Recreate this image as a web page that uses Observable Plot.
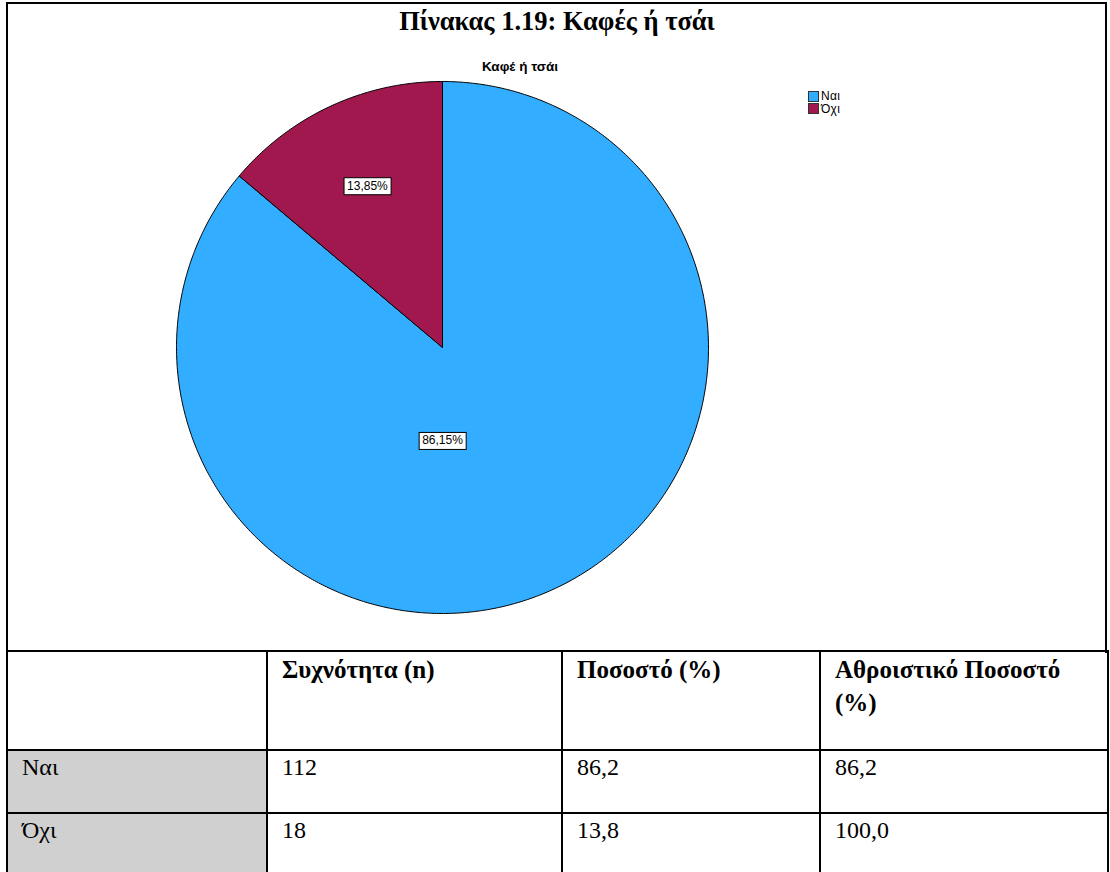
<!DOCTYPE html>
<html><head><meta charset="utf-8">
<script src="https://cdn.jsdelivr.net/npm/d3@7"></script>
<script src="https://cdn.jsdelivr.net/npm/@observablehq/plot@0.6"></script>
<style>
  body{margin:0;background:#fff;width:1110px;height:872px;overflow:hidden;position:relative;font-family:"Liberation Serif","Times New Roman",serif;}
  #frame{position:absolute;left:6px;top:2px;width:1097px;height:649px;border:2px solid #000;border-bottom:none;}
  #title{position:absolute;left:0;top:6px;width:1114px;text-align:center;font-weight:bold;font-size:26.5px;line-height:31px;}
  #subtitle{position:absolute;left:430px;top:59px;width:180px;text-align:center;font-family:"Liberation Sans",Arial,sans-serif;font-weight:bold;font-size:13.5px;}
  #pie{position:absolute;left:174px;top:79px;}
  #legend{position:absolute;left:808px;top:90px;font-family:"Liberation Sans",Arial,sans-serif;font-size:12px;letter-spacing:0.3px;}
  #legend .item{display:flex;align-items:center;height:12.5px;}
  #legend .sw{width:9px;height:9px;border:1px solid #333;margin-right:2px;}
  table{position:absolute;left:6px;top:650px;border-collapse:collapse;font-size:24px;table-layout:fixed;}
  td{border:2px solid #000;vertical-align:top;padding:0 14px 0 14px;line-height:33px;box-sizing:border-box;}
  tr.head{height:99px;}
  tr.head td{font-weight:bold;font-size:25px;padding-top:1px;}
  tr.row{height:63px;}
  tr.row td{padding-top:0;}
  td.rowhead{background:#d0d0d0;}
</style>
</head><body>
<div id="frame"></div>
<div id="title"></div>
<div id="subtitle"></div>
<div id="pie"></div>
<div id="legend"></div>
<table id="tbl"></table>
<script>
const tableTitle = "Πίνακας 1.19: Καφές ή τσάι";
const chartTitle = "Καφέ ή τσάι";
const categories = ["Ναι", "Όχι"];
const counts = [112, 18];
const percents = ["86,2", "13,8"];
const cumulative = ["86,2", "100,0"];
const headers = ["", "Συχνότητα (n)", "Ποσοστό (%)", "Αθροιστικό Ποσοστό (%)"];
const colors = ["#33adff", "#a0184e"];

document.getElementById("title").textContent = tableTitle;
document.getElementById("subtitle").textContent = chartTitle;

const total = d3.sum(counts);
const arcs = d3.pie().sort(null)(counts);

// slice outlines (center -> arc -> center), in unit-circle coordinates
const slicePts = [];
arcs.forEach((a, i) => {
  const cat = categories[i];
  slicePts.push({cat, x: 0, y: 0});
  const n = Math.max(2, Math.ceil((a.endAngle - a.startAngle) / (Math.PI / 360)));
  for (let k = 0; k <= n; k++) {
    const t = a.startAngle + (a.endAngle - a.startAngle) * k / n;
    slicePts.push({cat, x: Math.sin(t), y: Math.cos(t)});
  }
  slicePts.push({cat, x: 0, y: 0});
});

// labels: small slices at their mid-angle, a majority slice below the centre
const labels = arcs.map((a, i) => {
  const frac = counts[i] / total;
  const big = frac >= 0.5;
  const ang = big ? Math.PI : (a.startAngle + a.endAngle) / 2;
  const d = big ? 0.35 : 0.67;
  return {cat: categories[i], x: Math.sin(ang) * d, y: Math.cos(ang) * d,
          text: (frac * 100).toFixed(2).replace(".", ",") + "%"};
});

const size = 536;
const chart = Plot.plot({
  width: size, height: size,
  margin: 2,
  x: {domain: [-1, 1], axis: null},
  y: {domain: [-1, 1], axis: null},
  color: {domain: categories, range: colors},
  style: {background: "transparent", overflow: "visible"},
  marks: [
    Plot.line(slicePts, {x: "x", y: "y", z: "cat", fill: "cat", stroke: "#000", strokeWidth: 1, strokeLinejoin: "round"}),
    Plot.text(labels, {x: "x", y: "y", text: "text", fill: "#000", fontSize: 12, fontFamily: "Liberation Sans, Arial, sans-serif"})
  ]
});
document.getElementById("pie").appendChild(chart);

// white boxes behind the slice labels
d3.select(chart).selectAll("g[aria-label=text] text").each(function() {
  const b = this.getBBox();
  d3.select(this.parentNode).insert("rect", () => this)
    .attr("x", b.x - 3).attr("y", b.y - 1)
    .attr("width", b.width + 6).attr("height", b.height + 3)
    .attr("fill", "#fff").attr("stroke", "#000").attr("stroke-width", 1)
    .attr("transform", this.getAttribute("transform"));
});

// legend
const leg = d3.select("#legend");
categories.forEach((c, i) => {
  const it = leg.append("div").attr("class", "item");
  it.append("div").attr("class", "sw").style("background", colors[i]);
  it.append("span").text(c);
});

// table
const tbl = d3.select("#tbl");
const widths = [260, 295, 258, 288];
const hr = tbl.append("tr").attr("class", "head");
headers.forEach((h, j) => hr.append("td").style("width", widths[j] + "px").text(h));
categories.forEach((c, i) => {
  const r = tbl.append("tr").attr("class", "row");
  r.append("td").attr("class", "rowhead").text(c);
  r.append("td").text(counts[i]);
  r.append("td").text(percents[i]);
  r.append("td").text(cumulative[i]);
});
</script>
</body></html>
